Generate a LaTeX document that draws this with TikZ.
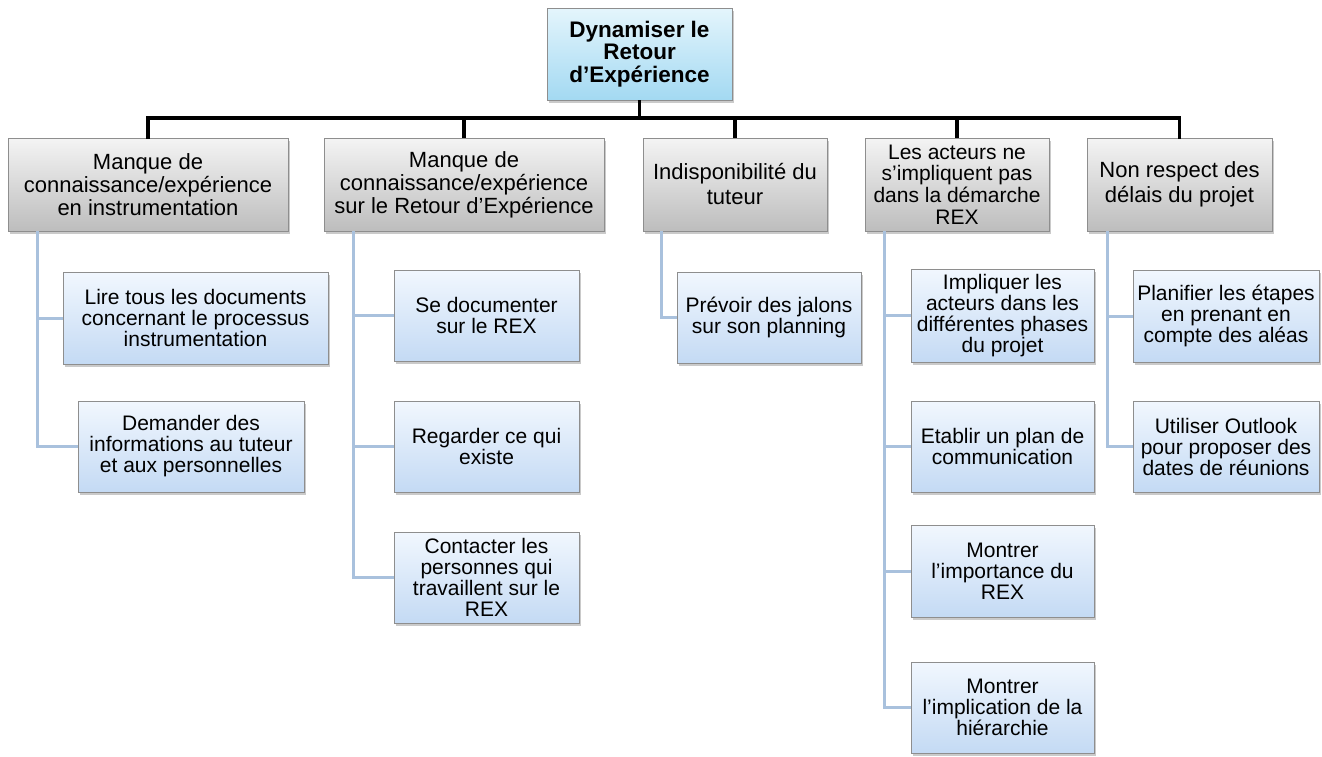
\documentclass[tikz,border=0pt]{standalone}
\usepackage{fontspec}
\setmainfont{Liberation Sans}
\usetikzlibrary{shadows}
\definecolor{rootTop}{HTML}{E4F5FC}
\definecolor{rootBot}{HTML}{A3D9F2}
\definecolor{headTop}{HTML}{F4F4F4}
\definecolor{headBot}{HTML}{BDBDBD}
\definecolor{leafTop}{HTML}{F1F7FE}
\definecolor{leafBot}{HTML}{C4DAF4}
\definecolor{frame}{HTML}{8E8E8E}
\definecolor{twig}{HTML}{A9C1DD}
\tikzset{
  box/.style={draw=frame, line width=0.8pt, inner sep=0pt, align=center,
    drop shadow={shadow xshift=2pt, shadow yshift=-3pt, opacity=0.35, fill=black!60}},
  rootbox/.style={box, top color=rootTop, bottom color=rootBot,
    font=\bfseries\fontsize{22.5}{22.5}\selectfont},
  headbox/.style={box, top color=headTop, bottom color=headBot,
    font=\fontsize{22}{23}\selectfont},
  leafbox/.style={box, top color=leafTop, bottom color=leafBot,
    font=\fontsize{21}{21}\selectfont},
  trunk/.style={line width=3.5pt, black},
  branch/.style={line width=3pt, twig}
}
% place a box by its left, top, right and bottom pixel edges
\newcommand{\pbox}[7]{%
  \node[#1, minimum width={#5-#3}, minimum height={#6-#4}] (#2) at ({(#3+#5)/2},{(#4+#6)/2}) {#7};}
\begin{document}
\begin{tikzpicture}[x=1pt,y=-1pt]
\useasboundingbox (0,0) rectangle (1322,756);

% root
\pbox{rootbox}{root}{547}{8}{732}{100}{Dynamiser le\\Retour\\d'Expérience}

% first level
\pbox{headbox}{h1}{8}{138}{288}{231}{Manque de\\connaissance/expérience\\en instrumentation}
\pbox{headbox}{h2}{324}{138}{604}{231}{Manque de\\connaissance/expérience\\sur le Retour d'Expérience}
\pbox{headbox, font=\fontsize{22}{25}\selectfont}{h3}{643}{138}{827}{231}{Indisponibilité du\\tuteur}
\pbox{headbox, font=\fontsize{21}{21.7}\selectfont}{h4}{865}{138}{1049}{231}{Les acteurs ne\\s'impliquent pas\\dans la démarche\\REX}
\pbox{headbox, font=\fontsize{22}{25}\selectfont}{h5}{1087}{138}{1272}{231}{Non respect des\\délais du projet}

% connectors from the root
\coordinate (bar) at (640,118);
\draw[trunk] (root.south) -- (root.south |- bar);
\draw[trunk, line cap=rect] (h1.north) -- (h1.north |- bar) -- (h5.north |- bar) -- (h5.north);
\foreach \h in {h2,h3,h4} \draw[trunk] (\h.north) -- (\h.north |- bar);

% second level
\pbox{leafbox}{c11}{63}{272}{328}{364}{Lire tous les documents\\concernant le processus\\instrumentation}
\pbox{leafbox}{c12}{78}{401}{304}{492}{Demander des\\informations au tuteur\\et aux personnelles}

\pbox{leafbox}{c21}{394}{270}{579}{361}{Se documenter\\sur le REX}
\pbox{leafbox}{c22}{394}{401}{579}{492}{Regarder ce qui\\existe}
\pbox{leafbox}{c23}{394}{532}{579}{623}{Contacter les\\personnes qui\\travaillent sur le\\REX}

\pbox{leafbox}{c31}{677}{272}{861}{363}{Prévoir des jalons\\sur son planning}

\pbox{leafbox}{c41}{911}{269}{1094}{362}{Impliquer les\\acteurs dans les\\différentes phases\\du projet}
\pbox{leafbox}{c42}{911}{401}{1094}{492}{Etablir un plan de\\communication}
\pbox{leafbox}{c43}{911}{525}{1094}{617}{Montrer\\l'importance du\\REX}
\pbox{leafbox}{c44}{911}{662}{1094}{753}{Montrer\\l'implication de la\\hiérarchie}

\pbox{leafbox}{c51}{1133}{270}{1319}{362}{Planifier les étapes\\en prenant en\\compte des aléas}
\pbox{leafbox}{c52}{1133}{401}{1319}{492}{Utiliser Outlook\\pour proposer des\\dates de réunions}

% connectors to the second level
\coordinate (t1) at (37,231);
\coordinate (t2) at (353,231);
\coordinate (t3) at (661,231);
\coordinate (t4) at (884,231);
\coordinate (t5) at (1107,231);
\draw[branch] (t1) |- (c11.west); \draw[branch] (t1) |- (c12.west);
\draw[branch] (t2) |- (c21.west); \draw[branch] (t2) |- (c22.west); \draw[branch] (t2) |- (c23.west);
\draw[branch] (t3) |- (c31.west);
\draw[branch] (t4) |- (c41.west); \draw[branch] (t4) |- (c42.west);
\draw[branch] (t4) |- (c43.west); \draw[branch] (t4) |- (c44.west);
\draw[branch] (t5) |- (c51.west); \draw[branch] (t5) |- (c52.west);
\end{tikzpicture}
\end{document}
